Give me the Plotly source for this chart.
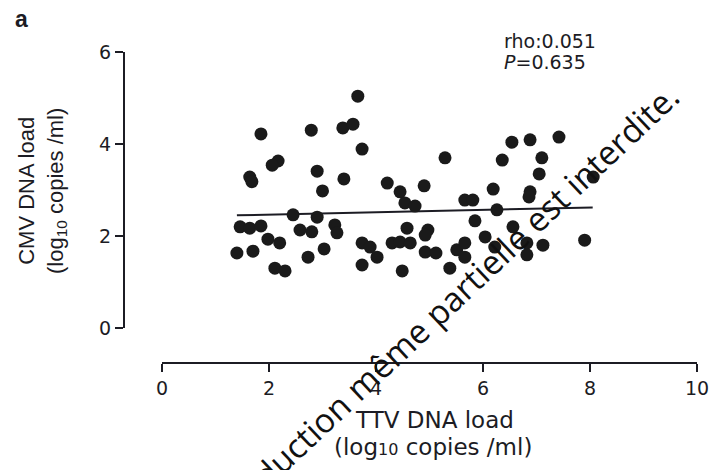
import plotly.graph_objects as go

# ---- data ----
ttv = [1.85, 2.79, 3.38, 3.57, 3.66, 3.74, 2.17, 2.06, 1.64, 1.68,
       2.90, 3.40, 3.00, 2.45, 2.90, 1.46, 1.64, 1.85, 2.58, 2.80,
       3.23, 3.27, 1.98, 2.20, 1.40, 1.70, 2.73, 3.03, 2.11, 2.30,
       5.29, 6.54, 6.88, 7.42, 6.36, 7.10, 7.05, 8.06, 4.21, 4.45,
       4.90, 4.54, 4.73, 5.66, 5.81, 6.19, 6.88, 6.86, 6.26, 4.58,
       4.97, 4.92, 5.85, 6.56, 6.04, 3.74, 3.89, 4.02, 4.30, 4.45,
       4.64, 4.92, 5.12, 5.51, 5.66, 5.66, 6.22, 6.82, 7.12, 6.82,
       7.90, 3.74, 4.49, 5.38]
cmv = [4.22, 4.30, 4.35, 4.43, 5.04, 3.89, 3.63, 3.54, 3.28, 3.18,
       3.41, 3.24, 2.98, 2.46, 2.41, 2.20, 2.17, 2.22, 2.13, 2.09,
       2.24, 2.07, 1.93, 1.85, 1.63, 1.67, 1.54, 1.72, 1.30, 1.24,
       3.70, 4.04, 4.09, 4.15, 3.65, 3.70, 3.35, 3.28, 3.15, 2.96,
       3.09, 2.72, 2.65, 2.78, 2.78, 3.02, 2.96, 2.85, 2.57, 2.17,
       2.13, 2.02, 2.33, 2.20, 1.98, 1.85, 1.76, 1.54, 1.85, 1.87,
       1.85, 1.65, 1.63, 1.70, 1.85, 1.54, 1.76, 1.85, 1.80, 1.59,
       1.91, 1.37, 1.24, 1.30]
fit_x = [1.40, 8.05]
fit_y = [2.45, 2.62]
x_ticks = [0, 2, 4, 6, 8, 10]
y_ticks = [0, 2, 4, 6]

# ---- layout geometry (pixels) ----
W, H = 721, 470
L, R, T, B = 100, 10, 40, 70
PW, PH = W - L - R, H - T - B


def fx(p):
    return (p - L) / PW


def fy(p):
    return (H - B - p) / PH


INK = "#1c1c24"
FONT = "DejaVu Sans, sans-serif"
FONT_V = "Liberation Sans, Arial, sans-serif"

fig = go.Figure()
fig.add_trace(go.Scatter(x=fit_x, y=fit_y, mode="lines",
                         line=dict(color=INK, width=2), hoverinfo="skip"))
fig.add_trace(go.Scatter(x=ttv, y=cmv, mode="markers",
                         marker=dict(size=13, color="#1a1a1a", line=dict(width=0))))

axis_common = dict(showgrid=False, zeroline=False, showline=True, linecolor=INK,
                   linewidth=2, ticks="outside", ticklen=8, tickwidth=2,
                   tickcolor=INK, tickfont=dict(family=FONT, size=19, color=INK),
                   anchor="free", automargin=False)

fig.update_layout(
    width=W, height=H, autosize=False, margin=dict(l=L, r=R, t=T, b=B),
    paper_bgcolor="white", plot_bgcolor="white", showlegend=False,
    font=dict(family=FONT, color=INK),
    xaxis=dict(range=[0, 10], tickvals=x_ticks, domain=[fx(162), fx(697)],
               position=fy(363), **axis_common),
    yaxis=dict(range=[0, 6], tickvals=y_ticks, domain=[fy(328), fy(52)],
               position=fx(124), **axis_common),
)

ann = []
ann.append(dict(text="<b>a</b>", x=fx(13), y=fy(19), xanchor="left", yanchor="middle",
                font=dict(size=23, family=FONT_V, color=INK)))
ann.append(dict(text="rho:0.051", x=fx(502), y=fy(41), xanchor="left", yanchor="middle",
                font=dict(size=19, family=FONT, color=INK)))
ann.append(dict(text="<i>P</i>=0.635", x=fx(502), y=fy(62), xanchor="left", yanchor="middle",
                font=dict(size=19, family=FONT, color=INK)))
ann.append(dict(text="TTV DNA load", x=fx(434), y=fy(420), xanchor="center", yanchor="middle",
                font=dict(size=23, family=FONT, color=INK)))
ann.append(dict(text="(log<span style='font-size:16px'>10</span> copies /ml)", x=fx(433), y=fy(447),
                xanchor="center", yanchor="middle",
                font=dict(size=23, family=FONT, color=INK)))
ann.append(dict(text="CMV DNA load<br>(log<sub>10</sub> copies /ml)", x=fx(42), y=fy(191),
                xanchor="center", yanchor="middle", textangle=-90,
                font=dict(size=22, family=FONT_V, color=INK)))
ann.append(dict(text="reproduction même partielle est interdite.", x=fx(434), y=fy(315),
                xanchor="center", yanchor="middle", textangle=-43.3,
                font=dict(size=33.5, family="Open Sans, sans-serif", color="#111111")))
for a in ann:
    a.update(xref="paper", yref="paper", showarrow=False)
fig.update_layout(annotations=ann)

fig.write_html(
    "out.html",
    config={"displayModeBar": False, "responsive": False},
    post_script=("document.documentElement.style.overflow='hidden';"
                 "document.body.style.overflow='hidden';"
                 "document.body.style.margin='0';"),
)
